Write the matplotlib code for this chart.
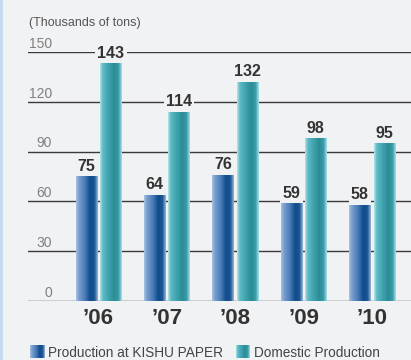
import numpy as np
import matplotlib
matplotlib.use("Agg")
import matplotlib.pyplot as plt
from matplotlib.colors import LinearSegmentedColormap
from matplotlib.patches import Rectangle

years = ["\u201906", "\u201907", "\u201908", "\u201909", "\u201910"]
kishu = [75, 64, 76, 59, 58]
domestic = [143, 114, 132, 98, 95]
yticks = [0, 30, 60, 90, 120, 150]
unit_label = "(Thousands of tons)"
series_names = ["Production at KISHU PAPER", "Domestic Production"]

BG = "#f1f2f4"
plt.rcParams['font.family'] = ['Liberation Sans', 'DejaVu Sans']

blue_cmap = LinearSegmentedColormap.from_list("blue", [
    (0.0, "#a9c2e2"), (0.12, "#7b9fcf"), (0.4, "#4a7cb8"),
    (0.65, "#104c8d"), (0.85, "#1b5592"), (1.0, "#9ab4da")])
teal_cmap = LinearSegmentedColormap.from_list("teal", [
    (0.0, "#b4e4ea"), (0.12, "#5fbac5"), (0.4, "#3ea2ad"),
    (0.65, "#2b8c95"), (0.85, "#389ba6"), (1.0, "#a4dfe9")])
grad = np.linspace(0, 1, 64).reshape(1, -1)

fig = plt.figure(figsize=(4.11, 3.6), dpi=100, facecolor=BG)
ax = fig.add_axes([28 / 411, 59 / 360, 383 / 411, 249 / 360])
ax.set_facecolor(BG)
for s in ax.spines.values():
    s.set_visible(False)

# left strip
fig.patches.append(Rectangle((0, 0), 2.5 / 411, 1, transform=fig.transFigure,
                             facecolor="#c3daef", edgecolor="none"))

for v in yticks:
    ax.axhline(v, color="#3a3a3a", lw=1.0, zorder=1)
    ax.annotate(str(v), xy=(24 / 383, v), xycoords=('axes fraction', 'data'),
                xytext=(0, 3), textcoords='offset points', ha='right', va='baseline',
                fontsize=10, color="#808080")

x = np.arange(len(years))
w = 0.31
off = 0.178
b1 = ax.bar(x - off, kishu, w, color="none", zorder=2)
b2 = ax.bar(x + off, domestic, w, color="none", zorder=2)
for bars, cmap in ((b1, blue_cmap), (b2, teal_cmap)):
    for p in bars:
        x0, wd, h = p.get_x(), p.get_width(), p.get_height()
        ax.imshow(grad, cmap=cmap, aspect='auto', extent=(x0, x0 + wd, 0, h),
                  interpolation='bilinear', zorder=2)
ax.set_xlim(-1.03, 4.57)
ax.set_ylim(0, 150)

for bars, vals in ((b1, kishu), (b2, domestic)):
    for p, v in zip(bars, vals):
        ax.annotate(str(v), xy=(p.get_x() + p.get_width() / 2, v),
                    xytext=(0, 4), textcoords='offset points', ha='center', va='baseline',
                    fontsize=11.5, fontweight='bold', color="#333333", zorder=4,
                    bbox=dict(boxstyle='square,pad=0.15', facecolor=BG, edgecolor='none'))

ax.set_xticks(x)
ax.set_xticklabels(years, fontsize=16, fontweight='bold', color="#333333")
ax.tick_params(axis='x', length=0, pad=5)
ax.set_yticks([])

fig.text(29 / 411, 1 - 26 / 360, unit_label, fontsize=9, color="#555555",
         ha='left', va='baseline')

# legend
def legend_item(xpx, cmap, label):
    lax = fig.add_axes([xpx / 411, 2 / 360, 14 / 411, 13 / 360])
    lax.imshow(grad, cmap=cmap, aspect='auto', interpolation='bilinear')
    lax.set_axis_off()
    fig.text((xpx + 18) / 411, 1 - 357 / 360, label, fontsize=9.8, color="#444444",
             ha='left', va='baseline')

legend_item(30, blue_cmap, series_names[0])
legend_item(236, teal_cmap, series_names[1])

fig.savefig("out.png", dpi=100, facecolor=BG)
